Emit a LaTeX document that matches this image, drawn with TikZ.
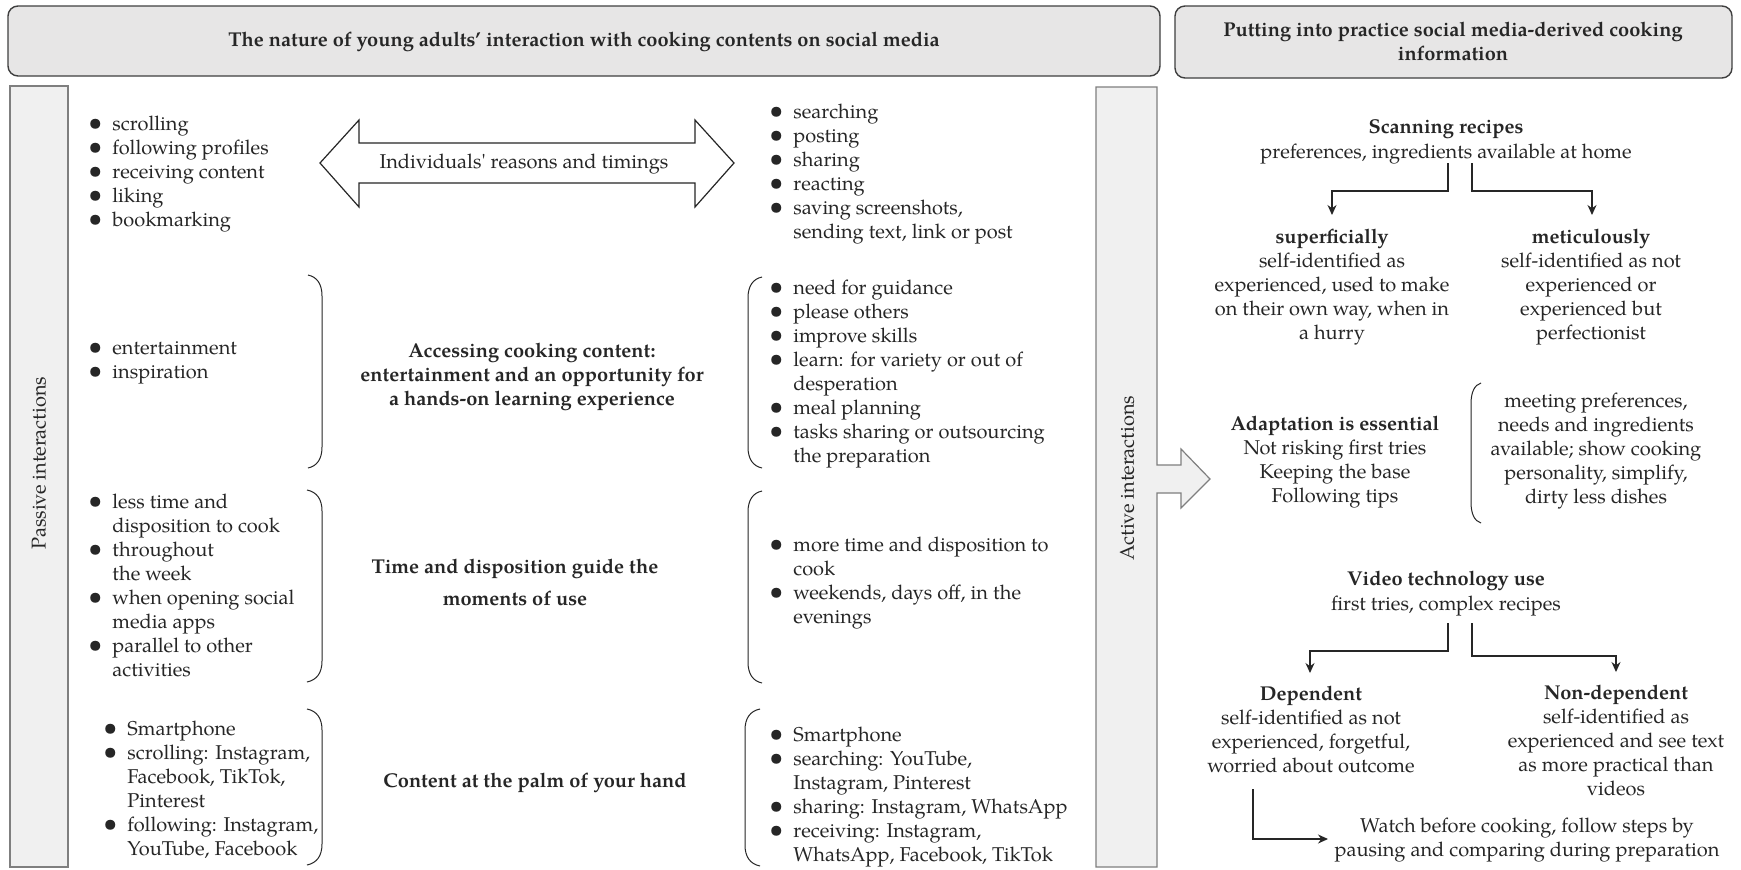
\documentclass[tikz,border=0pt]{standalone}
\usepackage{fontspec}
\setmainfont{texgyrepagella-regular.otf}[BoldFont=texgyrepagella-bold.otf,ItalicFont=texgyrepagella-italic.otf,BoldItalicFont=texgyrepagella-bolditalic.otf]
\usetikzlibrary{arrows.meta}
\definecolor{hdrfill}{HTML}{E7E6E6}
\definecolor{hdrline}{HTML}{3F3F3F}
\definecolor{boxfill}{HTML}{F0F0F0}
\definecolor{boxline}{HTML}{7F7F7F}
\definecolor{ink}{HTML}{262626}
\newcommand\bu{\makebox[12pt][l]{\raisebox{-0.3pt}{\scalebox{1.25}{\textbullet}}}}
\newcommand\nb{\hspace*{12pt}}
\newcommand\paren[4]{\draw[brace] (#1,#2) .. controls ({#1+0.65*(#4)},#2+2) and ({#1+#4},#2+9) .. ({#1+#4},#2+21) -- ({#1+#4},#3-21) .. controls ({#1+#4},#3-9) and ({#1+0.65*(#4)},#3-2) .. (#1,#3);}
\begin{document}
\begin{tikzpicture}[x=0.5pt,y=-0.5pt,
  txt/.style={inner sep=0pt,font=\fontsize{10}{12}\selectfont,text=ink},
  bf/.style={txt,font=\fontsize{10}{12}\selectfont\bfseries},
  lst/.style={txt,anchor=base west},
  ctr/.style={txt,anchor=base},
  hdr/.style={draw=hdrline,fill=hdrfill,rounded corners=5pt,line width=0.7pt},
  sidebox/.style={draw=boxline,fill=boxfill,line width=0.6pt},
  brace/.style={draw=ink,line width=0.5pt},
  arr/.style={draw=ink,line width=0.6pt,-{Stealth[length=5pt,width=4.5pt]}}]
\useasboundingbox (0,0) rectangle (1741,869);
\fill[white] (0,0) rectangle (1741,869);
% headers
\draw[hdr] (8,6) rectangle (1160,76);
\node[bf,anchor=base] (h1) at (584,46) {The nature of young adults’ interaction with cooking contents on social media};
\draw[hdr] (1175,6) rectangle (1732,78);
\node[bf,anchor=base] (h2) at (1453,36) {\begin{tabular}[t]{@{}c@{}}Putting into practice social media-derived cooking\\information\end{tabular}};
% side boxes
\draw[sidebox] (10,86) rectangle (68,867);
\node[txt,rotate=90] (pas) at (39,463) {Passive interactions};
\draw[sidebox] (1096,87) -- (1157,87) -- (1157,465) -- (1181,465) -- (1181,449) -- (1210,479) -- (1181,508) -- (1181,493) -- (1157,493) -- (1157,867) -- (1096,867) -- cycle;
\node[txt,rotate=90] (act) at (1127,478) {Active interactions};
% double arrow
\draw[draw=ink,fill=white,line width=0.6pt] (320,163) -- (359,120) -- (359,143) -- (695,143) -- (695,120) -- (734,163) -- (695,207) -- (695,183) -- (359,183) -- (359,207) -- cycle;
\node[ctr] (ind) at (524,168) {Individuals\textquotesingle{} reasons and timings};
% passive lists
\node[lst] (pl1) at (88,130) {\begin{tabular}[t]{@{}l@{}}\bu scrolling\\\bu following profiles\\\bu receiving content\\\bu liking\\\bu bookmarking\end{tabular}};
\node[lst] (pl2) at (88,354) {\begin{tabular}[t]{@{}l@{}}\bu entertainment\\\bu inspiration\end{tabular}};
\node[lst] (pl3) at (88,508) {\begin{tabular}[t]{@{}l@{}}\bu less time and\\\nb disposition to cook\\\bu throughout\\\nb the week\\\bu when opening social\\\nb media apps\\\bu parallel to other\\\nb activities\end{tabular}};
\node[lst] (pl4) at (103,735) {\begin{tabular}[t]{@{}l@{}}\bu Smartphone\\\bu scrolling: Instagram,\\\nb Facebook, TikTok,\\\nb Pinterest\\\bu following: Instagram,\\\nb YouTube, Facebook\end{tabular}};
% active lists
\node[lst] (al1) at (769,118) {\begin{tabular}[t]{@{}l@{}}\bu searching\\\bu posting\\\bu sharing\\\bu reacting\\\bu saving screenshots,\\\nb sending text, link or post\end{tabular}};
\node[lst] (al2) at (769,294) {\begin{tabular}[t]{@{}l@{}}\bu need for guidance\\\bu please others\\\bu improve skills\\\bu learn: for variety or out of\\\nb desperation\\\bu meal planning\\\bu tasks sharing or outsourcing\\\nb the preparation\end{tabular}};
\node[lst] (al3) at (769,551) {\begin{tabular}[t]{@{}l@{}}\bu more time and disposition to\\\nb cook\\\bu weekends, days off, in the\\\nb evenings\end{tabular}};
\node[lst] (al4) at (769,741) {\begin{tabular}[t]{@{}l@{}}\bu Smartphone\\\bu searching: YouTube,\\\nb Instagram, Pinterest\\\bu sharing: Instagram, WhatsApp\\\bu receiving: Instagram,\\\nb WhatsApp, Facebook, TikTok\end{tabular}};
% centre titles
\node[bf,anchor=base] (acc) at (532,357) {\begin{tabular}[t]{@{}c@{}}Accessing cooking content:\\entertainment and an opportunity for\\a hands-on learning experience\end{tabular}};
\node[bf,anchor=base] (tim) at (515,573) {\begin{tabular}[t]{@{}c@{}}Time and disposition guide the\\[4pt]moments of use\end{tabular}};
\node[bf,anchor=base] (palm) at (535,787) {Content at the palm of your hand};
% braces
\paren{308}{275}{468}{14}
\paren{762}{277}{468}{-14}
\paren{307}{490}{682}{15}
\paren{762}{491}{683}{-14}
\paren{307}{709}{865}{15}
\paren{760}{709}{866}{-15}
\paren{1481}{383}{523}{-10}
% right section
\node[bf,anchor=base] (scan) at (1446,133) {Scanning recipes};
\node[ctr] (pref) at (1446,158) {preferences, ingredients available at home};
\node[ctr] (sup) at (1332,243) {\begin{tabular}[t]{@{}c@{}}\textbf{superficially}\\self-identified as\\experienced, used to make\\on their own way, when in\\a hurry\end{tabular}};
\node[ctr] (met) at (1591,243) {\begin{tabular}[t]{@{}c@{}}\textbf{meticulously}\\self-identified as not\\experienced or\\experienced but\\perfectionist\end{tabular}};
\node[ctr] (adapt) at (1335,430) {\begin{tabular}[t]{@{}c@{}}\textbf{Adaptation is essential}\\Not risking first tries\\Keeping the base\\Following tips\end{tabular}};
\node[ctr] (meet) at (1596,407) {\begin{tabular}[t]{@{}c@{}}meeting preferences,\\needs and ingredients\\available; show cooking\\personality, simplify,\\dirty less dishes\end{tabular}};
\node[bf,anchor=base] (video) at (1446,585) {Video technology use};
\node[ctr] (first) at (1446,610) {first tries, complex recipes};
\node[ctr] (dep) at (1311,700) {\begin{tabular}[t]{@{}c@{}}\textbf{Dependent}\\self-identified as not\\experienced, forgetful,\\worried about outcome\end{tabular}};
\node[ctr] (nondep) at (1616,699) {\begin{tabular}[t]{@{}c@{}}\textbf{Non-dependent}\\self-identified as\\experienced and see text\\as more practical than\\videos\end{tabular}};
\node[ctr] (watch) at (1527,832) {\begin{tabular}[t]{@{}c@{}}Watch before cooking, follow steps by\\pausing and comparing during preparation\end{tabular}};
% connectors
\coordinate (s1) at (1448,163); \coordinate (s2) at (1472,163);
\coordinate (t1) at (1332,215); \coordinate (t2) at (1592,215);
\coordinate (m1) at (0,191);
\draw[arr] (s1) -- (s1 |- m1) -| (t1);
\draw[arr] (s2) -- (s2 |- m1) -| (t2);
\coordinate (v1) at (1448,623); \coordinate (v2) at (1472,623);
\coordinate (u1) at (1310,673); \coordinate (u2) at (1616,672);
\coordinate (mv1) at (0,651); \coordinate (mv2) at (0,656);
\draw[arr] (v1) -- (v1 |- mv1) -| (u1);
\draw[arr] (v2) -- (v2 |- mv2) -| (u2);
\coordinate (w1) at (1253,789); \coordinate (w2) at (1328,839);
\draw[arr] (w1) |- (w2);
\end{tikzpicture}
\end{document}
